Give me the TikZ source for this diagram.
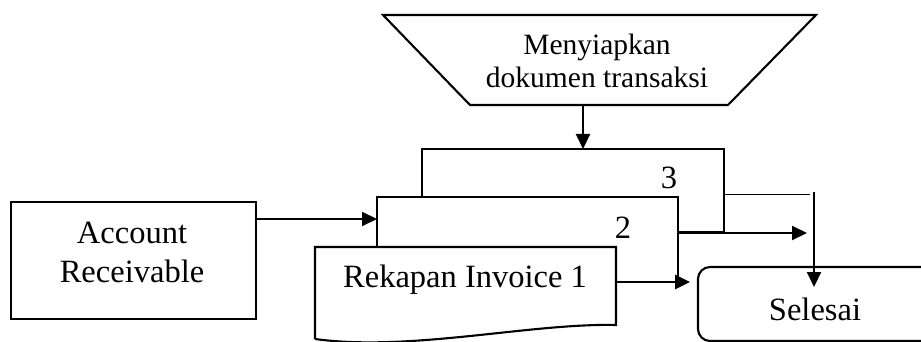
\documentclass[tikz,border=0pt]{standalone}
\usepackage{fontspec}
\setmainfont{Liberation Serif}
\usetikzlibrary{arrows.meta}

\tikzset{
  outline/.style={draw=black, line width=2.1pt, line join=miter},
  docshape/.style={outline, fill=white},
  flow/.style={draw=black, line width=2.1pt, -{Triangle[length=15pt,width=14pt]}},
  thinline/.style={draw=black, line width=1pt},
  bigtext/.style={font=\fontsize{32.5}{36}\selectfont, anchor=base, inner sep=0pt},
  midtext/.style={font=\fontsize{29.5}{34}\selectfont, anchor=base, inner sep=0pt},
}

\begin{document}
\begin{tikzpicture}[x=1pt, y=-1pt]
\useasboundingbox (0,0) rectangle (921,342);

% manual operation (trapezoid)
\draw[outline] (383,15) -- (816,15) -- (728,105) -- (470,105) -- cycle;
\node[midtext] (m1) at (597,55) {Menyiapkan};
\node[midtext] (m2) at (597,88) {dokumen transaksi};
\coordinate (trapbot) at (583,105);

% source box
\node[outline, minimum width=245pt, minimum height=117pt, inner sep=0pt] (acc) at (133.5,260.5) {};
\node[bigtext] (acc1) at (132,243) {Account};
\node[bigtext] (acc2) at (132,282) {Receivable};

% stacked documents, back to front
\draw[docshape] (422,232) -- (422,149) -- (724,149) -- (724,232) -- (678,232);
\coordinate (doc3top) at (583,149);
\coordinate (doc3right) at (724,194);
\node[bigtext] (n3) at (669,189) {3};

\draw[docshape] (377,282) -- (377,197) -- (678,197) -- (678,282);
\coordinate (doc2left) at (377,219);
\coordinate (doc2right) at (678,233);
\node[bigtext] (n2) at (623,238) {2};

\draw[docshape] (315,339) -- (315,247) -- (616,247) -- (616,325)
  .. controls (530,323) and (410,352) .. (315,339);
\coordinate (doc1right) at (616,282);
\node[bigtext] (rek) at (465,287) {Rekapan Invoice 1};

% terminator
\draw[outline, rounded corners=12pt] (930,267) -- (698,267) -- (698,341) -- (930,341);
\node[bigtext] (sel) at (815,320) {Selesai};

% connector ends
\coordinate (e1) at (690,282);
\coordinate (e2) at (807,233);
\coordinate (e3) at (810,194);
\coordinate (v1) at (814,192);
\coordinate (v2) at (814,287);

% connectors
\draw[flow] (trapbot) -- (doc3top);
\draw[flow] (acc.east |- doc2left) -- (doc2left);
\draw[flow, line width=2.7pt] (doc1right) -- (e1);
\draw[flow] (doc2right) -- (e2);
\draw[thinline] (doc3right) -- (e3);
\draw[flow] (v1) -- (v2);
\end{tikzpicture}
\end{document}
